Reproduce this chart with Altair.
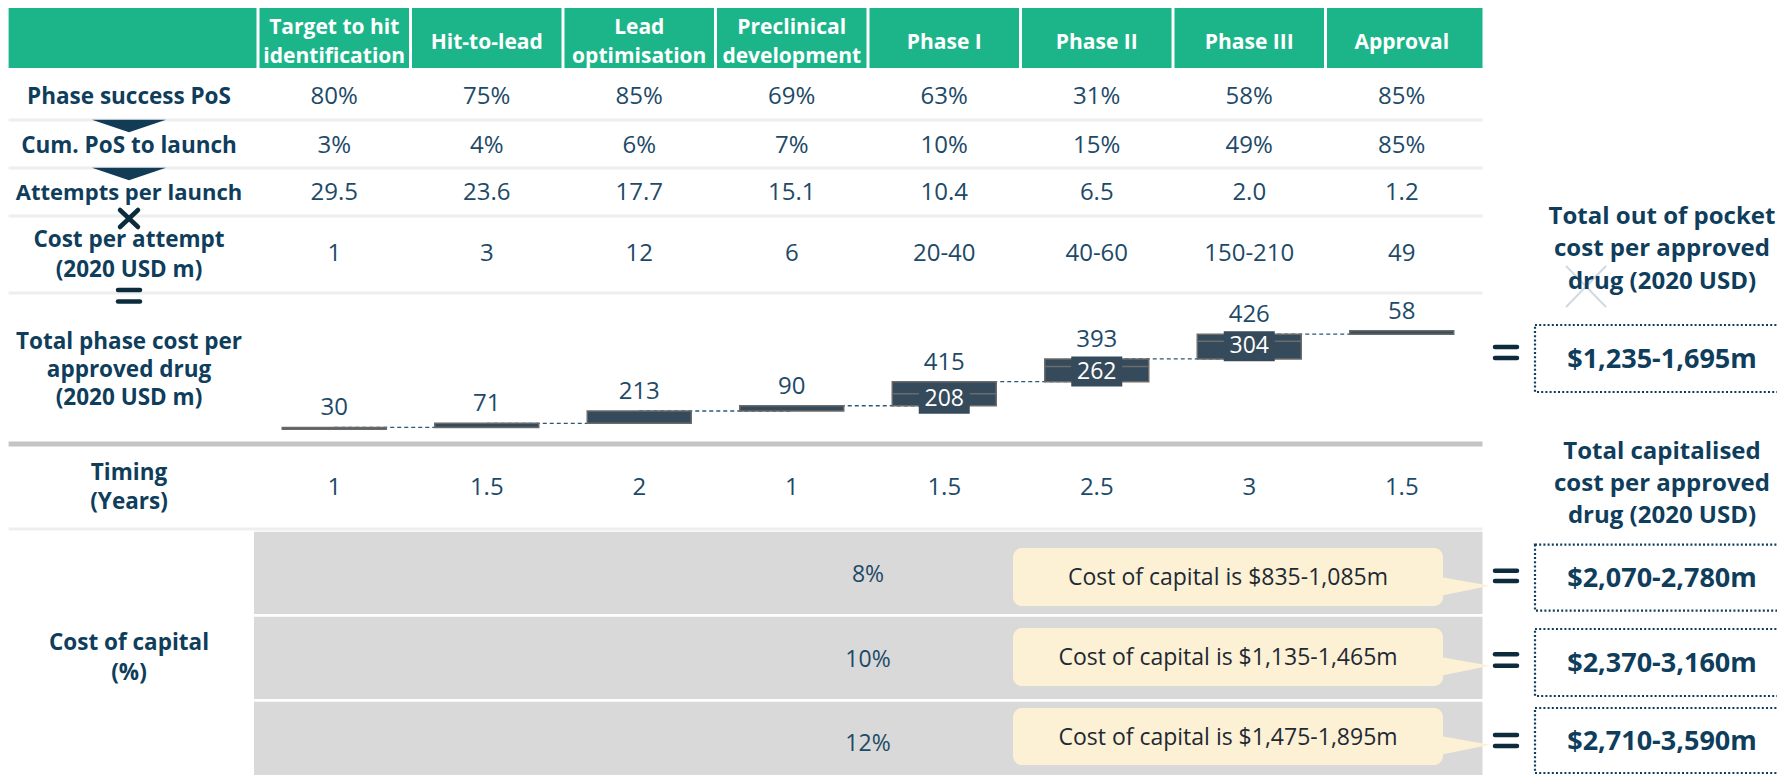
import altair as alt
import pandas as pd

# ---------------- data ----------------
phases = ["Target to hit\nidentification", "Hit-to-lead", "Lead\noptimisation",
          "Preclinical\ndevelopment", "Phase I", "Phase II", "Phase III", "Approval"]
phase_pos = ["80%", "75%", "85%", "69%", "63%", "31%", "58%", "85%"]
cum_pos = ["3%", "4%", "6%", "7%", "10%", "15%", "49%", "85%"]
attempts = ["29.5", "23.6", "17.7", "15.1", "10.4", "6.5", "2.0", "1.2"]
cost_per_attempt = ["1", "3", "12", "6", "20-40", "40-60", "150-210", "49"]
cost_high = [30, 71, 213, 90, 415, 393, 426, 58]
cost_low = [30, 71, 213, 90, 208, 262, 304, 58]
timing = ["1", "1.5", "2", "1", "1.5", "2.5", "3", "1.5"]
coc_rates = ["8%", "10%", "12%"]
coc_costs = ["Cost of capital is $835-1,085m", "Cost of capital is $1,135-1,465m",
             "Cost of capital is $1,475-1,895m"]
capitalised_totals = ["$2,070-2,780m", "$2,370-3,160m", "$2,710-3,590m"]
out_of_pocket_total = "$1,235-1,695m"

# ---------------- style ----------------
FONT = "Open Sans"
GREEN = "#1cb58a"
LABEL = "#0f3d5c"
VALUE = "#1d4a68"
DARK = "#0c2b3d"
BAR = "#354b5b"
BAR_EDGE = "#6b6b6b"
SEP = "#eeeeee"
GREY_ROW = "#d9d9d9"
CREAM = "#fdf1d5"
W, H = 1769, 767

xs = alt.Scale(domain=[-0.5, 7.5], range=[245, 1475], nice=False, zero=False)
ys = alt.Scale(domain=[0, 1700], range=[421.2, 322.6], nice=False, zero=False)
one = pd.DataFrame({"k": [0]})
idx = list(range(len(phases)))
layers = []


def X(field):
    return alt.X(field, scale=xs, axis=None)


def Y(field):
    return alt.Y(field, scale=ys, axis=None)


def text_at(t, x, y, size, weight="normal", color=LABEL, lh=None):
    n = t.count("\n") + 1
    lh = lh or size * 1.3
    props = dict(font=FONT, fontSize=size, fontWeight=weight, color=color,
                 align="center", baseline="middle", lineBreak="\n", lineHeight=lh)
    return alt.Chart(pd.DataFrame({"t": [t]})).mark_text(**props).encode(
        x=alt.value(x), y=alt.value(y - (n - 1) * lh / 2), text="t:N")


def rule(x1, y1, x2, y2, color, width, dash=None, cap="butt"):
    props = dict(color=color, strokeWidth=width, strokeCap=cap)
    if dash:
        props["strokeDash"] = dash
    return alt.Chart(one).mark_rule(**props).encode(
        x=alt.value(x1), y=alt.value(y1), x2=alt.value(x2), y2=alt.value(y2))


def box(x1, y1, x2, y2, **props):
    return alt.Chart(one).mark_rect(**props).encode(
        x=alt.value(x1), y=alt.value(y1), x2=alt.value(x2), y2=alt.value(y2))


def equals(xc, y1, y2):
    return [rule(xc - 11, y1, xc + 11, y1, DARK, 4.5, cap="round"),
            rule(xc - 11, y2, xc + 11, y2, DARK, 4.5, cap="round")]


# ---------------- header ----------------
layers.append(box(0.6, 0, 1474.5, 60, color=GREEN))
layers.append(alt.Chart(pd.DataFrame({"b": [i - 0.5 for i in idx]})).mark_rule(
    color="white", strokeWidth=3).encode(x=X("b:Q"), y=alt.value(0), y2=alt.value(60)))
hdr = pd.DataFrame({"idx": idx, "p": phases})
hdr["two"] = hdr["p"].str.contains("\n")
HLH = 29
for two, yc in [(False, 35), (True, 34 - HLH / 2)]:
    layers.append(alt.Chart(hdr[hdr["two"] == two]).mark_text(
        font=FONT, fontSize=21, fontWeight="bold", color="white", baseline="middle",
        lineBreak="\n", lineHeight=HLH).encode(x=X("idx:Q"), y=alt.value(yc), text="p:N"))

# ---------------- separators ----------------
for y in [112, 160, 208, 285, 521]:
    layers.append(rule(0.6, y, 1474.5, y, SEP, 3))
layers.append(rule(0.6, 436, 1474.5, 436, "#c4c4c4", 5))

# ---------------- table rows ----------------
for vals, y in [(phase_pos, 89), (cum_pos, 138), (attempts, 185),
                (cost_per_attempt, 246), (timing, 480)]:
    layers.append(alt.Chart(pd.DataFrame({"idx": idx, "v": vals})).mark_text(
        font=FONT, fontSize=24, color=VALUE, baseline="middle").encode(
        x=X("idx:Q"), y=alt.value(y), text="v:N"))

LX = 121
LS = 22.5
layers += [
    text_at("Phase success PoS", LX, 89, LS, "bold"),
    text_at("Cum. PoS to launch", LX, 138, LS, "bold"),
    text_at("Attempts per launch", LX, 185, 22, "bold"),
    text_at("Cost per attempt\n(2020 USD m)", LX, 247, LS, "bold", lh=30),
    text_at("Total phase cost per\napproved drug\n(2020 USD m)", LX, 362, LS, "bold", lh=28),
    text_at("Timing\n(Years)", LX, 479.5, LS, "bold", lh=29),
    text_at("Cost of capital\n(%)", LX, 650, LS, "bold", lh=30),
]

# operators in the label column
tri = "M -1 -0.17 L 1 -0.17 L 0 0.17 Z"
for ty in [118, 166]:
    layers.append(alt.Chart(one).mark_point(
        shape=tri, filled=True, size=5476, opacity=1, color="#123b55").encode(
        x=alt.value(LX), y=alt.value(ty)))
layers.append(rule(LX - 9, 202, LX + 9, 219, DARK, 4.5, cap="round"))
layers.append(rule(LX + 9, 202, LX - 9, 219, DARK, 4.5, cap="round"))
layers += equals(LX, 282, 293.5)

# ---------------- waterfall ----------------
starts, run = [], 0
for v in cost_high:
    starts.append(run)
    run += v
wf = pd.DataFrame({
    "idx": idx,
    "high": cost_high,
    "low": cost_low,
    "start": starts,
    "end": [s + h for s, h in zip(starts, cost_high)],
    "low_end": [s + l for s, l in zip(starts, cost_low)],
})
wf["ranged"] = wf["high"] != wf["low"]
conn = pd.DataFrame({"idx": idx[:-1], "nxt": idx[1:], "level": wf["end"][:-1].tolist()})

layers.append(alt.Chart(conn).mark_rule(color="#2b5878", strokeWidth=1.3,
                                        strokeDash=[4, 3]).encode(
    x=X("idx:Q"), x2="nxt:Q", y=Y("level:Q")))
layers.append(alt.Chart(wf).mark_bar(width=104, color=BAR, stroke=BAR_EDGE,
                                     strokeWidth=1.5).encode(
    x=X("idx:Q"), y=Y("start:Q"), y2="end:Q"))
layers.append(alt.Chart(wf).mark_text(font=FONT, fontSize=24, color=VALUE,
                                      baseline="middle", dy=-19).encode(
    x=X("idx:Q"), y=Y("end:Q"), text="high:Q"))
rng = alt.Chart(wf).transform_filter("datum.ranged")
layers.append(rng.mark_tick(orient="horizontal", size=104, thickness=1.5,
                            color=BAR_EDGE, opacity=1).encode(
    x=X("idx:Q"), y=Y("low_end:Q")))
layers.append(rng.mark_point(shape="M -1 -0.59 L 1 -0.59 L 1 0.59 L -1 0.59 Z",
                             filled=True, size=2601, opacity=1, color=BAR,
                             yOffset=5).encode(x=X("idx:Q"), y=Y("low_end:Q")))
layers.append(rng.mark_text(font=FONT, fontSize=23, color="white",
                            baseline="middle", dy=5).encode(
    x=X("idx:Q"), y=Y("low_end:Q"), text="low:Q"))

# ---------------- cost of capital ----------------
grey_rows = [(523.7, 606), (608.7, 691), (693.7, 775)]
call_rows = [(540, 598), (620, 678), (700, 757)]
eq_rows = [(562.7, 573), (646.3, 657.7), (727, 738)]
tot_rows = [(536.7, 602.7), (621, 688), (700, 765)]
tail = "M -1.05 -0.42 L 1 -0.05 L -1.05 0.36 Z"
for i, (rate, cc, tot) in enumerate(zip(coc_rates, coc_costs, capitalised_totals)):
    g0, g1 = grey_rows[i]
    c0, c1 = call_rows[i]
    layers.append(box(246, g0, 1474.5, g1, color=GREY_ROW))
    layers.append(text_at(rate, 860, (g0 + g1) / 2 + 2, 23, color=VALUE))
    layers.append(box(1005, c0, 1435, c1, color=CREAM, cornerRadius=9))
    layers.append(alt.Chart(one).mark_point(shape=tail, filled=True, size=2209,
                                            opacity=1, color=CREAM).encode(
        x=alt.value(1458.5), y=alt.value(c1 - 19)))
    layers.append(text_at(cc, 1220, (c0 + c1) / 2 + 1, 23, color="#1e2a33"))
    layers += equals(1498, *eq_rows[i])
    t0, t1 = tot_rows[i]
    layers.append(box(1527, t0, 1800, t1, fillOpacity=0, stroke=LABEL,
                      strokeWidth=2.2, strokeDash=[2, 2.2]))
    layers.append(text_at(tot, 1654, (t0 + t1) / 2 + 1, 27, "bold"))

# ---------------- right column ----------------
layers.append(rule(1558, 258, 1598, 299, "#cfd9e0", 1.8))
layers.append(rule(1598, 258, 1558, 299, "#cfd9e0", 1.8))
layers.append(text_at("Total out of pocket\ncost per approved\ndrug (2020 USD)",
                      1654, 241, 24, "bold", lh=32.5))
layers += equals(1498, 339, 350)
layers.append(box(1527, 317, 1800, 384, fillOpacity=0, stroke=LABEL,
                  strokeWidth=2.2, strokeDash=[2, 2.2]))
layers.append(text_at(out_of_pocket_total, 1654, 352, 27, "bold"))
layers.append(text_at("Total capitalised\ncost per approved\ndrug (2020 USD)",
                      1654, 476, 24, "bold", lh=32))

chart = alt.layer(*layers).properties(
    width=W, height=H, padding=0, autosize=alt.AutoSizeParams(type="none"),
    background="white",
).configure_view(stroke=None)

chart.save("out.html", embed_options={"renderer": "svg", "actions": False})
